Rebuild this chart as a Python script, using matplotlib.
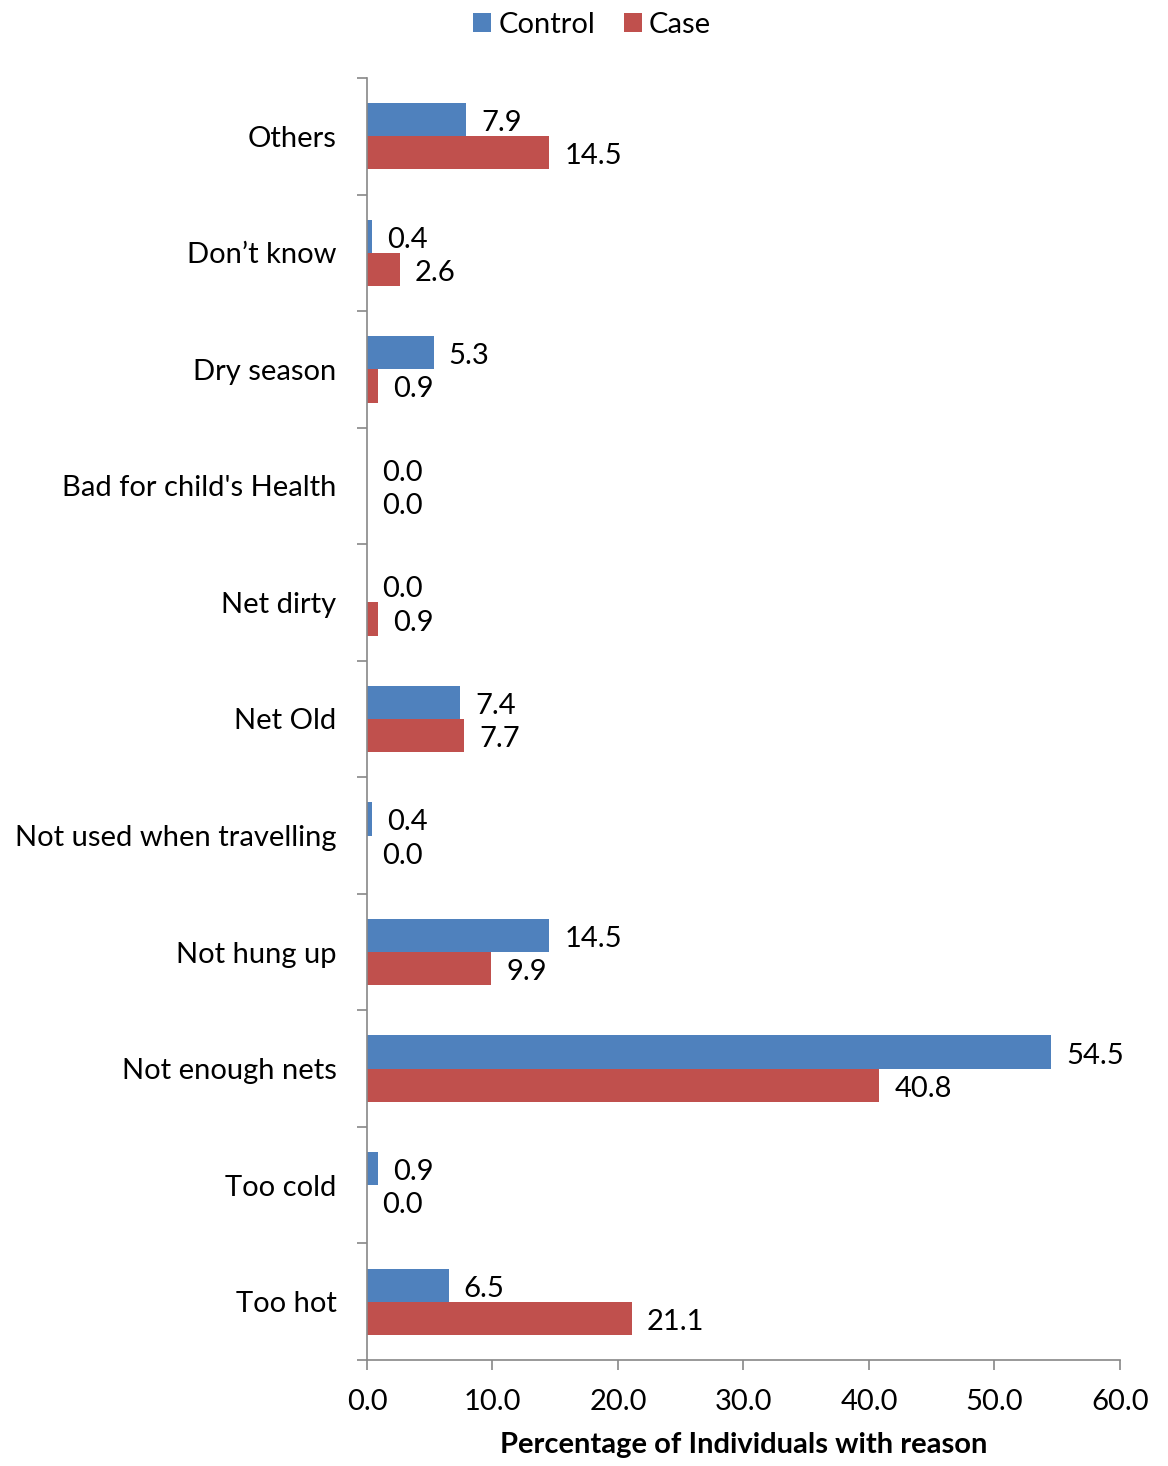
import matplotlib
matplotlib.use("Agg")
import matplotlib.pyplot as plt
import numpy as np

categories = ["Too hot", "Too cold", "Not enough nets", "Not hung up",
              "Not used when travelling", "Net Old", "Net dirty",
              "Bad for child's Health", "Dry season", "Don\u2019t know", "Others"]
control = [6.5, 0.9, 54.5, 14.5, 0.4, 7.4, 0.0, 0.0, 5.3, 0.4, 7.9]
case = [21.1, 0.0, 40.8, 9.9, 0.0, 7.7, 0.9, 0.0, 0.9, 2.6, 14.5]
xticks = [0, 10, 20, 30, 40, 50, 60]

plt.rcParams['font.family'] = ['Lato', 'DejaVu Sans']
fs = 21

fig = plt.figure(figsize=(11.68, 14.66), dpi=100)
ax = fig.add_axes([0.3142, 0.0723, 0.6447, 0.8745])

y = np.arange(len(categories))
h = 0.285
blue = "#4F81BD"
red = "#C0504D"
b1 = ax.barh(y + h / 2, control, height=h, color=blue, label="Control")
b2 = ax.barh(y - h / 2, case, height=h, color=red, label="Case")

for bars, vals in ((b1, control), (b2, case)):
    for bar, v in zip(bars, vals):
        ax.annotate(f"{v:.1f}", (v, bar.get_y() + bar.get_height() / 2),
                    xytext=(11, -2.5), textcoords="offset points",
                    va="center", ha="left", fontsize=fs)

ax.set_ylim(-0.5, len(categories) - 0.5)
ax.set_xlim(0, 60)
ax.set_yticks(y)
ax.set_yticklabels(categories, fontsize=fs)
ax.set_yticks(np.arange(-0.5, len(categories), 1), minor=True)
ax.tick_params(axis='y', which='major', length=0, pad=22)
ax.tick_params(axis='y', which='minor', length=7, color="#888888", width=1.2)
ax.set_xticks(xticks)
ax.set_xticklabels([f"{t:.1f}" for t in xticks], fontsize=fs)
ax.tick_params(axis='x', which='major', length=7, color="#888888", width=1.2, pad=14)

for s in ("top", "right"):
    ax.spines[s].set_visible(False)
for s in ("left", "bottom"):
    ax.spines[s].set_color("#888888")
    ax.spines[s].set_linewidth(1.2)

ax.set_xlabel("Percentage of Individuals with reason", fontsize=fs, fontweight="bold", labelpad=12)

fig.legend(handles=[b1, b2], labels=["Control", "Case"], loc="upper center",
           bbox_to_anchor=(0.507, 1.01), ncol=2, frameon=False, fontsize=fs,
           handlelength=0.6, handleheight=0.6, handletextpad=0.25, columnspacing=1.0)

fig.savefig("out.png", dpi=100)
